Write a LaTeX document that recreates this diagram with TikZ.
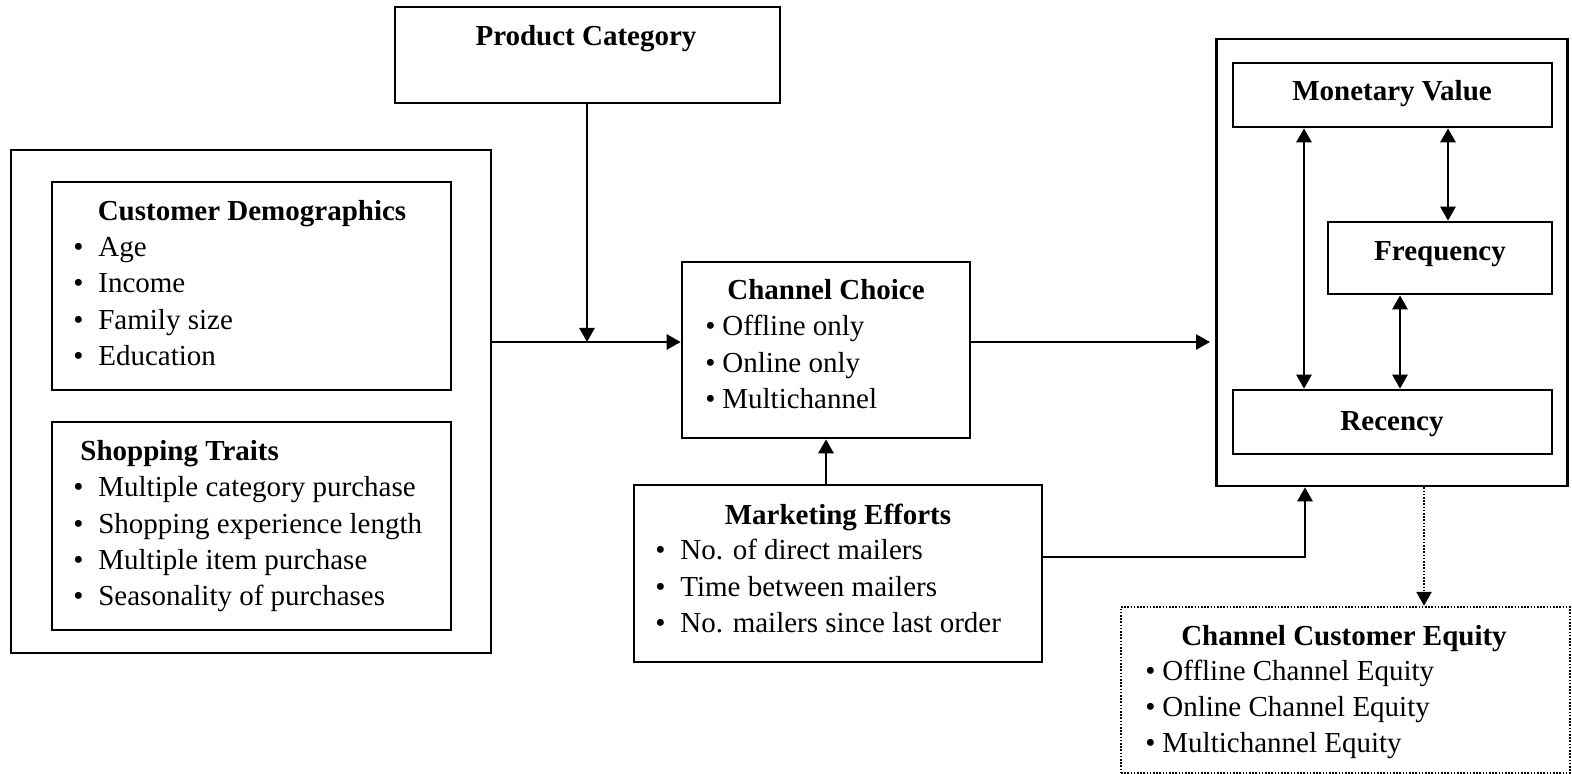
\documentclass[tikz,border=0pt]{standalone}
\usepackage{fontspec}
\setmainfont{Liberation Serif}
\usetikzlibrary{arrows.meta}
\newcommand{\bul}[2]{\makebox[#1][l]{\textbullet}#2}
\begin{document}
\begin{tikzpicture}[x=0.5pt,y=-0.5pt,
  box/.style={draw,line width=1.3pt,inner sep=0pt,rectangle},
  dbox/.style={draw,line width=1.2pt,inner sep=0pt,rectangle,dash pattern=on 0.8pt off 0.8pt},
  txt/.style={inner sep=0pt,font=\fontsize{14.5}{18}\selectfont,anchor=base west},
  head/.style={inner sep=0pt,font=\fontsize{14.5}{18}\selectfont\bfseries,anchor=base},
  tip/.style={Triangle[length=7pt,width=7.5pt]},
  arr/.style={line width=1.3pt,-{Triangle[length=7pt,width=7.5pt]}},
  biarr/.style={line width=1.3pt,{Triangle[length=7pt,width=7.5pt]}-{Triangle[length=7pt,width=7.5pt]}}]
\useasboundingbox (0,0) rectangle (1572,774);
% boxes
\node[box,minimum width=192.5pt,minimum height=48pt] (pc) at (587.5,55) {};
\node[box,minimum width=240pt,minimum height=251.5pt] (lo) at (251,401.5) {};
\node[box,minimum width=199.5pt,minimum height=104pt] (cd) at (251.5,286) {};
\node[box,minimum width=199.5pt,minimum height=104pt] (st) at (251.5,526) {};
\node[box,minimum width=144pt,minimum height=88pt] (cc) at (826,350) {};
\node[box,minimum width=204pt,minimum height=88.5pt] (me) at (838,573.5) {};
\node[box,minimum width=175.5pt,minimum height=223.5pt] (ro) at (1392,262.5) {};
\node[box,minimum width=159.5pt,minimum height=32pt] (mv) at (1392.5,95) {};
\node[box,minimum width=112pt,minimum height=36pt] (fr) at (1440,258) {};
\node[box,minimum width=159.5pt,minimum height=32pt] (re) at (1392.5,422) {};
\node[dbox,minimum width=224.5pt,minimum height=83pt] (cce) at (1345.5,690) {};
% texts
\node[head] (pct) at (586,46) {Product Category};
\node[head] (cdh) at (252,221) {Customer Demographics};
\node[txt] (cd1) at (73,257) {\bul{12.5pt}{Age}};
\node[txt] (cd2) at (73,293) {\bul{12.5pt}{Income}};
\node[txt] (cd3) at (73,329.5) {\bul{12.5pt}{Family size}};
\node[txt] (cd4) at (73,365.5) {\bul{12.5pt}{Education}};
\node[head,anchor=base west] (sth) at (80,460.5) {Shopping Traits};
\node[txt] (st1) at (73,496.5) {\bul{12.5pt}{Multiple category purchase}};
\node[txt] (st2) at (73,533) {\bul{12.5pt}{Shopping experience length}};
\node[txt] (st3) at (73,569) {\bul{12.5pt}{Multiple item purchase}};
\node[txt] (st4) at (73,605) {\bul{12.5pt}{Seasonality of purchases}};
\node[head] (cch) at (826,300) {Channel Choice};
\node[txt] (cc1) at (705,336) {\bul{8.5pt}{Offline only}};
\node[txt] (cc2) at (705,373) {\bul{8.5pt}{Online only}};
\node[txt] (cc3) at (705,409) {\bul{8.5pt}{Multichannel}};
\node[head] (meh) at (838,524) {Marketing Efforts};
\node[txt] (me1) at (655,559) {\bul{12.5pt}{No. of direct mailers}};
\node[txt] (me2) at (655,596) {\bul{12.5pt}{Time between mailers}};
\node[txt] (me3) at (655,632) {\bul{12.5pt}{No. mailers since last order}};
\node[head] (mvt) at (1392,101) {Monetary Value};
\node[head] (frt) at (1440,261) {Frequency};
\node[head] (ret) at (1392,430) {Recency};
\node[head] (cceh) at (1344,645) {Channel Customer Equity};
\node[txt] (cce1) at (1145,680) {\bul{8.5pt}{Offline Channel Equity}};
\node[txt] (cce2) at (1145,716.5) {\bul{8.5pt}{Online Channel Equity}};
\node[txt] (cce3) at (1145,752.5) {\bul{8.5pt}{Multichannel Equity}};
% coordinates
\coordinate (j) at (587,342);
\coordinate (ccend) at (1210,342);
\coordinate (mex) at (1305,557);
\coordinate (xa) at (1304,0);
\coordinate (xb) at (1448,0);
\coordinate (xc) at (1400,0);
\coordinate (xd) at (1424,0);
% connectors
\draw[line width=1.3pt] (lo.east |- j) -- (j);
\draw[arr] (j) -- (cc.west |- j);
\draw[arr] (pc.south -| j) -- (j);
\draw[arr] (cc.east |- j) -- (ccend);
\draw[arr] (me.north -| cc.south) -- (cc.south);
\draw[arr] (me.east |- mex) -- (mex) -- (ro.south -| mex);
\draw[biarr] (mv.south -| xa) -- (re.north -| xa);
\draw[biarr] (mv.south -| xb) -- (fr.north -| xb);
\draw[biarr] (fr.south -| xc) -- (re.north -| xc);
\draw[line width=1.2pt,dash pattern=on 0.8pt off 0.8pt] (ro.south -| xd) -- ([yshift=4pt]cce.north -| xd);
\draw[arr] ([yshift=4.5pt]cce.north -| xd) -- (cce.north -| xd);
\end{tikzpicture}
\end{document}
